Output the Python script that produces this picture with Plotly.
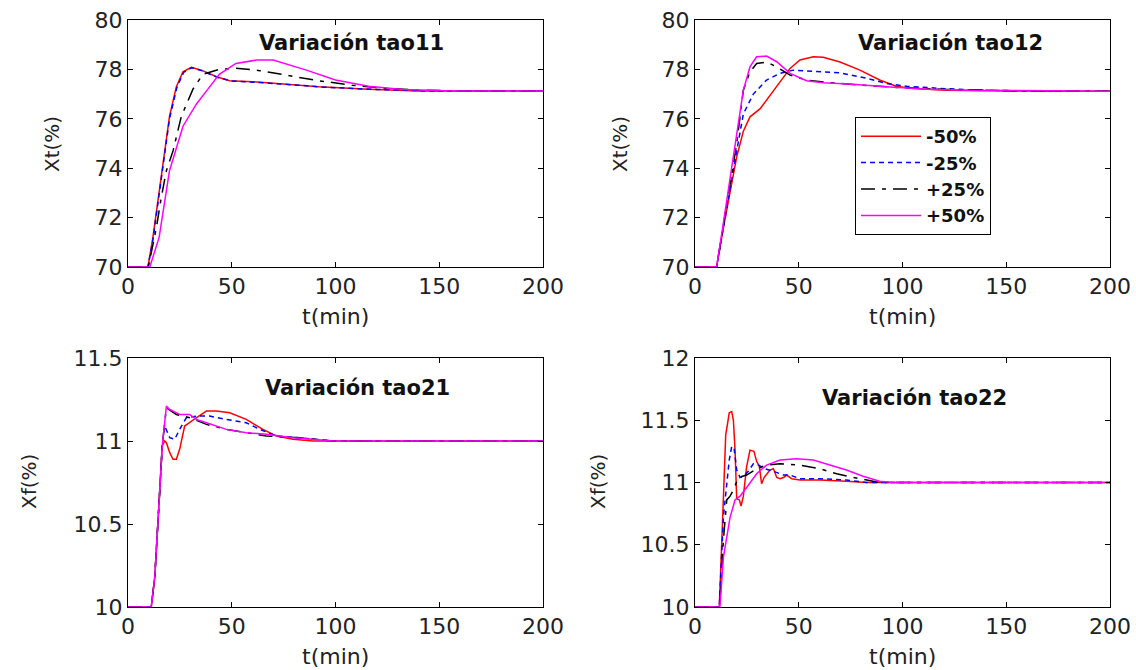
import plotly.graph_objects as go

W, H = 1136, 670

series_names = ["-50%", "-25%", "+25%", "+50%"]
colors = ["#ff0000", "#0000ff", "#000000", "#ff00ff"]
dashes = ["solid", "5px,4px", "14px,7px,4px,7px", "solid"]

# ---- Variación tao11 (Xt) ----
tao11_t = [
    [0, 9.6, 12, 14.5, 16.9, 20, 23.3, 26.5, 30.5, 35.3, 42.6, 49, 60, 76, 92, 116, 140, 200],
    [0, 9.6, 12, 14.5, 17, 20, 23.5, 26.8, 30.8, 35.5, 43, 50, 62, 78, 95, 118, 145, 200],
    [0, 9.8, 13.7, 16, 18.5, 21.7, 25.7, 31.3, 36.1, 44, 52, 63.5, 76, 92, 108, 124.5, 140, 157, 200],
    [0, 10.5, 15, 20, 26.5, 33, 38.5, 44, 52, 62, 70, 86, 100, 116, 132.5, 157, 200],
]
tao11_y = [
    [70, 70, 71.2, 72.7, 74.05, 76.1, 77.3, 77.9, 78.08, 77.97, 77.7, 77.54, 77.5, 77.4, 77.3, 77.2, 77.13, 77.13],
    [70, 70, 71.1, 72.6, 74.0, 76.0, 77.25, 77.88, 78.07, 77.95, 77.68, 77.53, 77.48, 77.38, 77.28, 77.19, 77.13, 77.13],
    [70, 70, 71.6, 72.8, 73.9, 74.7, 76.1, 77.2, 77.8, 78.0, 78.05, 77.95, 77.77, 77.54, 77.36, 77.23, 77.16, 77.13, 77.13],
    [70, 70, 71.2, 73.9, 75.7, 76.6, 77.2, 77.8, 78.24, 78.38, 78.38, 77.97, 77.57, 77.32, 77.19, 77.13, 77.13],
]

# ---- Variación tao12 (Xt) ----
tao12_t = [
    [0, 10.4, 13.7, 16.9, 20.1, 23.3, 26.5, 31.3, 36.1, 41, 45.8, 50.6, 57, 61.8, 69.9, 79.5, 89, 97, 105, 121, 153, 200],
    [0, 10.4, 13.7, 16.9, 20.1, 23.3, 28.1, 34.5, 41, 47.4, 57, 69.9, 82.7, 92.4, 102, 118, 137, 169.5, 200],
    [0, 10.4, 13.7, 16.9, 20.1, 23.3, 26.5, 29.7, 34.5, 39.4, 45.8, 53.8, 65, 81, 97, 121, 153, 200],
    [0, 10.4, 13.7, 16.9, 20, 23.3, 26.5, 29.7, 34.5, 39.4, 45.8, 53.8, 61.8, 76, 92, 113, 137, 200],
]
tao12_y = [
    [70, 70, 71.6, 73.1, 74.46, 75.5, 76.08, 76.4, 76.96, 77.5, 78.04, 78.38, 78.51, 78.49, 78.3, 77.97, 77.57, 77.32, 77.23, 77.16, 77.13, 77.12],
    [70, 70, 71.6, 73.2, 74.7, 76.2, 77.0, 77.57, 77.84, 77.97, 77.93, 77.86, 77.64, 77.43, 77.32, 77.23, 77.16, 77.12, 77.12],
    [70, 70, 71.7, 73.4, 75.0, 77.16, 77.9, 78.24, 78.3, 78.1, 77.77, 77.57, 77.46, 77.36, 77.27, 77.19, 77.14, 77.12],
    [70, 70, 71.8, 73.6, 75.5, 77.16, 78.1, 78.51, 78.54, 78.31, 77.84, 77.54, 77.46, 77.4, 77.3, 77.2, 77.15, 77.12],
]

# ---- Variación tao21 (Xf) ----
tao21_t = [
    [0, 11.2, 12.9, 13.7, 15.3, 16.5, 17.7, 18.5, 20.1, 21.7, 23.3, 24.9, 27.3, 32.9, 37.8, 42.6, 49, 57, 65, 71.5, 79.5, 89, 99, 200],
    [0, 11.2, 12.9, 13.7, 15.3, 16.5, 17.7, 20.1, 22.5, 24.9, 28.1, 32.9, 39.3, 47.4, 57, 63.5, 71.5, 82.7, 99, 200],
    [0, 11.2, 12.9, 13.7, 15.3, 16.5, 17.7, 18.5, 23.3, 29.7, 37.8, 47.4, 57, 66.7, 82.7, 99, 200],
    [0, 11.2, 12.9, 13.7, 15.3, 16.5, 17.7, 18.5, 20.1, 24.9, 29.7, 32.9, 37.8, 47.4, 57, 66.7, 79.5, 99, 200],
]
tao21_y = [
    [10, 10, 10.18, 10.38, 10.70, 10.97, 11.0, 10.99, 10.93, 10.89, 10.89, 10.95, 11.09, 11.14, 11.18, 11.18, 11.17, 11.13, 11.07, 11.03, 11.01, 11.0, 11.0, 11.0],
    [10, 10, 10.18, 10.38, 10.70, 10.97, 11.09, 11.02, 11.01, 11.07, 11.14, 11.15, 11.15, 11.13, 11.11, 11.07, 11.03, 11.02, 11.0, 11.0],
    [10, 10, 10.18, 10.38, 10.70, 10.97, 11.12, 11.2, 11.16, 11.14, 11.1, 11.07, 11.05, 11.03, 11.02, 11.0, 11.0],
    [10, 10, 10.18, 10.38, 10.70, 10.97, 11.1, 11.21, 11.19, 11.16, 11.16, 11.13, 11.11, 11.07, 11.05, 11.04, 11.02, 11.0, 11.0],
]

# ---- Variación tao22 (Xf) ----
tao22_t = [
    [0, 11.7, 12.9, 14, 14.8, 16.5, 17.7, 18.5, 19.3, 20.1, 21.4, 22.2, 23.3, 24.9, 26.5, 28.4, 29.7, 31, 32.1, 33.3, 34.5, 36.1, 37.8, 39.4, 41, 42.6, 44.2, 46.6, 50.6, 60.2, 73, 82.7, 200],
    [0, 11.7, 13.7, 15.3, 16.5, 17.7, 18.8, 20.1, 21.7, 23.3, 25.7, 28.1, 30.5, 33.7, 37.8, 42.6, 45.8, 50.6, 60.2, 73, 82.7, 200],
    [0, 11.9, 13.7, 15.3, 16.9, 18.5, 20.9, 24.9, 29.7, 34.5, 41, 50.6, 60.2, 68.3, 76.3, 82.7, 89, 200],
    [0, 12, 13.7, 15.3, 16.9, 19.3, 21.7, 24.9, 29.7, 34.5, 41, 49, 57, 65, 73, 81, 89, 95.6, 200],
]
tao22_y = [
    [10, 10, 10.52, 10.99, 11.38, 11.56, 11.57, 11.5, 11.26, 10.87, 10.86, 10.81, 10.89, 11.13, 11.26, 11.25, 11.17, 11.13, 10.99, 11.04, 11.07, 11.1, 11.11, 11.04, 11.03, 11.04, 11.06, 11.03, 11.02, 11.02, 11.01, 11.0, 11.0],
    [10, 10, 10.73, 11.0, 11.18, 11.29, 11.28, 11.1, 11.04, 11.05, 11.09, 11.15, 11.14, 11.11, 11.09, 11.06, 11.06, 11.03, 11.03, 11.02, 11.0, 11.0],
    [10, 10, 10.54, 10.86, 10.89, 10.94, 11.04, 11.06, 11.11, 11.14, 11.15, 11.14, 11.11, 11.07, 11.04, 11.02, 11.0, 11.0],
    [10, 10, 10.4, 10.56, 10.72, 10.86, 10.89, 10.96, 11.07, 11.14, 11.18, 11.19, 11.18, 11.14, 11.1, 11.05, 11.01, 11.0, 11.0],
]

panels = [
    dict(t=tao11_t, y=tao11_y, title="Variación tao11", ylabel="Xt(%)", yr=[70, 80], dtick=2,
         px=(128, 543), py=(20, 267), tpos=(351, 43), ylpos=(52, 144), legend=False),
    dict(t=tao12_t, y=tao12_y, title="Variación tao12", ylabel="Xt(%)", yr=[70, 80], dtick=2,
         px=(695, 1110), py=(20, 267), tpos=(950, 43), ylpos=(620, 144), legend=True),
    dict(t=tao21_t, y=tao21_y, title="Variación tao21", ylabel="Xf(%)", yr=[10, 11.5], dtick=0.5,
         px=(128, 543), py=(358, 607), tpos=(357, 388), ylpos=(29, 482), legend=False),
    dict(t=tao22_t, y=tao22_y, title="Variación tao22", ylabel="Xf(%)", yr=[10, 12], dtick=0.5,
         px=(695, 1110), py=(358, 607), tpos=(914, 398), ylpos=(598, 482), legend=False),
]

fig = go.Figure()
tick_font = dict(family="DejaVu Sans", size=22, color="#222222")
annotations = []

for i, p in enumerate(panels):
    k = "" if i == 0 else str(i + 1)
    for j in range(4):
        fig.add_trace(go.Scatter(
            x=p["t"][j], y=p["y"][j], mode="lines", name=series_names[j],
            line=dict(color=colors[j], width=1.5, dash=dashes[j]),
            xaxis="x" + k, yaxis="y" + k, showlegend=p["legend"],
        ))
    xd = [p["px"][0] / W, p["px"][1] / W]
    yd = [1 - p["py"][1] / H, 1 - p["py"][0] / H]
    common = dict(showgrid=False, zeroline=False, showline=True, linecolor="black", linewidth=1,
                  mirror="ticks", ticks="inside", ticklen=5, tickcolor="black", tickfont=tick_font,
                  automargin=False)
    fig.layout["xaxis" + k] = dict(domain=xd, range=[0, 200], dtick=50, tick0=0,
                                   anchor="y" + k, **common)
    fig.layout["yaxis" + k] = dict(domain=yd, range=p["yr"], dtick=p["dtick"], tick0=0,
                                   anchor="x" + k, **common)
    annotations.append(dict(text="<b>" + p["title"] + "</b>", x=p["tpos"][0] / W, y=1 - p["tpos"][1] / H,
                            xref="paper", yref="paper", showarrow=False, xanchor="center", yanchor="middle",
                            font=dict(family="DejaVu Sans", size=21, color="#111111")))
    annotations.append(dict(text="t(min)", x=(p["px"][0] + p["px"][1]) / 2 / W,
                            y=1 - (p["py"][1] + 49) / H,
                            xref="paper", yref="paper", showarrow=False, xanchor="center", yanchor="middle",
                            font=dict(family="DejaVu Sans", size=22, color="#222222")))
    annotations.append(dict(text=p["ylabel"], x=p["ylpos"][0] / W, y=1 - p["ylpos"][1] / H, textangle=-90,
                            xref="paper", yref="paper", showarrow=False, xanchor="center", yanchor="middle",
                            font=dict(family="DejaVu Sans", size=20, color="#222222")))

fig.update_layout(
    width=W, height=H,
    margin=dict(l=0, r=0, t=0, b=0, autoexpand=False),
    paper_bgcolor="white", plot_bgcolor="white",
    annotations=annotations,
    legend=dict(x=855 / W, y=1 - 117 / H, xanchor="left", yanchor="top",
                bordercolor="black", borderwidth=1, bgcolor="white",
                font=dict(family="DejaVu Sans", size=18, color="#111111", weight="bold"),
                itemwidth=60, tracegroupgap=0),
)

fig.write_html("out.html", config={"displayModeBar": False},
               post_script="document.body.style.margin='0';document.body.style.overflow='hidden';")
